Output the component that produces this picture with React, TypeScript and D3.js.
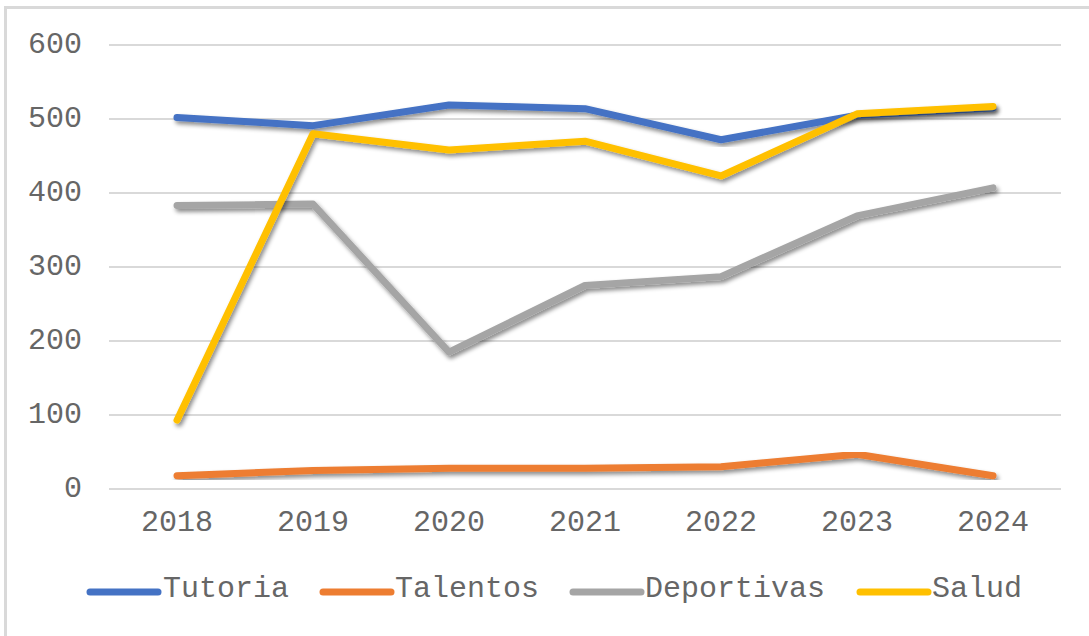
import React from "react";
import * as d3 from "d3";

const years = ["2018", "2019", "2020", "2021", "2022", "2023", "2024"];
const tutoria = [502, 491, 519, 514, 472, 505, 515];
const talentos = [18, 25, 28, 28, 30, 47, 18];
const deportivas = [383, 385, 185, 275, 287, 369, 407];
const salud = [93, 480, 458, 470, 423, 507, 517];
const yTicks = [0, 100, 200, 300, 400, 500, 600];

const seriesNames = ["Tutoria", "Talentos", "Deportivas", "Salud"];
const seriesValues = [tutoria, talentos, deportivas, salud];
const seriesColors = ["#4472C4", "#ED7D31", "#A5A5A5", "#FFC000"];

const W = 1089;
const H = 636;
const FONT = "'Liberation Mono', 'Courier New', monospace";
const FS = 30;
const TXT = "#666666";

export default function App() {
  const x = d3.scaleBand<string>().domain(years).range([109, 1061]);
  const y = d3.scaleLinear().domain([0, 600]).range([489, 45]);
  const line = d3
    .line<number>()
    .x((_, i) => (x(years[i]) as number) + x.bandwidth() / 2)
    .y((d) => y(d));

  const legendItems = [
    { sx: 87, tx: 163 },
    { sx: 320, tx: 395 },
    { sx: 570, tx: 645 },
    { sx: 857, tx: 932 },
  ];

  return (
    <svg
      width={W}
      height={H}
      style={{ position: "absolute", left: 0, top: 0, background: "#fff" }}
    >
      <defs>
        <filter id="shadow" x="-10%" y="-10%" width="120%" height="130%">
          <feDropShadow dx="2" dy="3" stdDeviation="2" floodColor="#000" floodOpacity="0.45" />
        </filter>
      </defs>
      <rect x={0} y={0} width={W} height={H} fill="#fff" />
      <rect x={5.5} y={7.5} width={3000} height={3000} fill="none" stroke="#d9d9d9" strokeWidth={3} />
      {yTicks.map((t) => (
        <g key={t}>
          <line x1={109} x2={1061} y1={y(t)} y2={y(t)} stroke="#d9d9d9" strokeWidth={2} />
          <text
            x={82}
            y={y(t)}
            textAnchor="end"
            dominantBaseline="central"
            fontFamily={FONT}
            fontSize={FS}
            fill={TXT}
          >
            {t}
          </text>
        </g>
      ))}
      {years.map((yr) => (
        <text
          key={yr}
          x={(x(yr) as number) + x.bandwidth() / 2}
          y={523}
          textAnchor="middle"
          dominantBaseline="central"
          fontFamily={FONT}
          fontSize={FS}
          fill={TXT}
        >
          {yr}
        </text>
      ))}
      {seriesValues.map((vals, i) => (
        <path
          key={seriesNames[i]}
          d={line(vals) || ""}
          fill="none"
          stroke={seriesColors[i]}
          strokeWidth={7}
          strokeLinecap="round"
          strokeLinejoin="round"
          filter="url(#shadow)"
        />
      ))}
      {seriesNames.map((n, i) => (
        <g key={n}>
          <line
            x1={legendItems[i].sx + 3}
            x2={legendItems[i].sx + 71}
            y1={592}
            y2={592}
            stroke={seriesColors[i]}
            strokeWidth={7}
            strokeLinecap="round"
          />
          <text
            x={legendItems[i].tx}
            y={589}
            dominantBaseline="central"
            fontFamily={FONT}
            fontSize={FS}
            fill={TXT}
          >
            {n}
          </text>
        </g>
      ))}
    </svg>
  );
}
